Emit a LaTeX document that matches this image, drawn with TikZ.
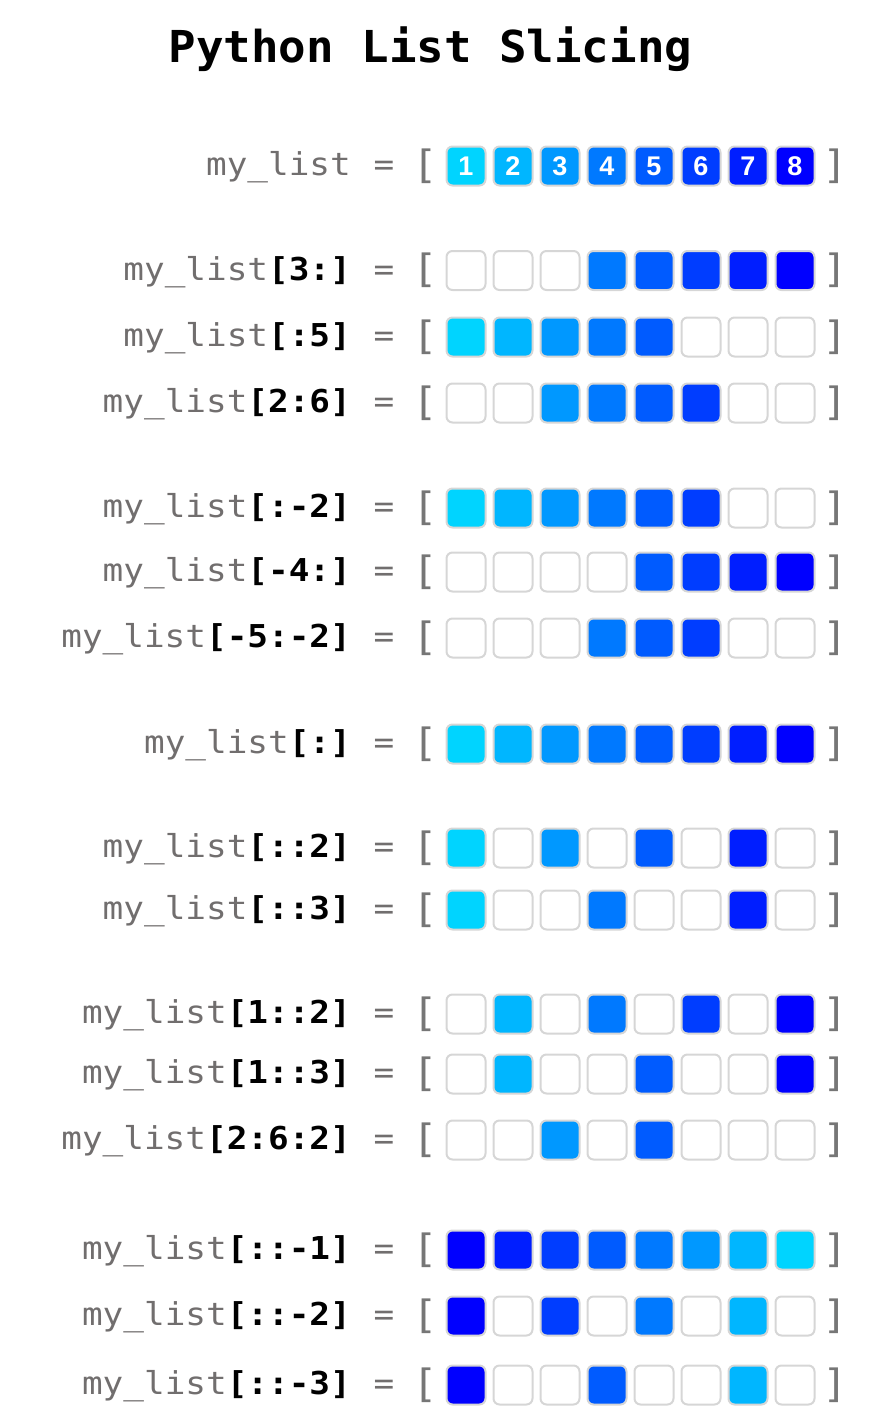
\documentclass[tikz,border=0pt]{standalone}
\usepackage{fontspec}
\newfontfamily\codefont{DejaVu Sans Mono}[FakeStretch=1.09]
\newfontfamily\titlefont{DejaVu Sans Mono}[FakeStretch=1.04]
\newfontfamily\numfont{Liberation Sans}
\definecolor{c0}{RGB}{255,255,255}
\definecolor{c1}{RGB}{0,212,255}
\definecolor{c2}{RGB}{0,182,255}
\definecolor{c3}{RGB}{0,152,255}
\definecolor{c4}{RGB}{0,121,255}
\definecolor{c5}{RGB}{0,91,255}
\definecolor{c6}{RGB}{0,61,255}
\definecolor{c7}{RGB}{0,30,255}
\definecolor{c8}{RGB}{0,0,255}
\definecolor{txtgray}{RGB}{113,110,110}
\definecolor{brkgray}{RGB}{118,118,118}
\definecolor{cellgray}{RGB}{214,214,214}
\tikzset{
  lbl/.style={inner sep=0pt, text=txtgray, font=\codefont\fontsize{31.5}{34}\selectfont, anchor=base east},
  eqsign/.style={inner sep=0pt, text=txtgray, font=\codefont\fontsize{31.5}{34}\selectfont, anchor=base},
  brk/.style={inner sep=0pt, text=brkgray, font=\codefont\fontsize{39}{40}\selectfont, anchor=base},
  cell/.style={rectangle, rounded corners=6pt, draw=cellgray, line width=2pt, minimum size=39pt, inner sep=0pt,
    text=white, font=\numfont\bfseries\fontsize{27}{27}\selectfont},
  ttl/.style={inner sep=0pt, font=\titlefont\bfseries\fontsize{44}{46}\selectfont, anchor=base}
}
% #1 name, #2 y centre, #3 slice, #4 eight colour indices
\newcommand\mkrow[4]{%
  \node[lbl] (#1-l) at (351,#2+9.5) {my\_list{\bfseries\color{black}#3}};
  \node[eqsign] (#1-e) at (384,#2+9.5) {=};
  \node[brk] (#1-o) at (425,#2+12.3) {[};
  \foreach \c [count=\i from 0] in {#4}
    \node[cell, fill=c\c] (#1-\i) at (466+47*\i,#2) {};
  \node[brk] (#1-c) at (835,#2+12.3) {]};
}
\begin{document}
\begin{tikzpicture}[x=1pt,y=-1pt]
\useasboundingbox (0,0) rectangle (869,1428);
\node[ttl] (title) at (430.5,62.7) {Python List Slicing};
% first row with numbers
\node[lbl] (r0-l) at (351,175.5) {my\_list};
\node[eqsign] (r0-e) at (384,175.5) {=};
\node[brk] (r0-o) at (425,178.3) {[};
\foreach \i in {1,...,8}
  \node[cell, fill=c\i] (r0-\i) at (466+47*\i-47,166) {\i};
\node[brk] (r0-c) at (835,178.3) {]};
\mkrow{ra}{270.5}{[3:]}{0,0,0,4,5,6,7,8}
\mkrow{rb}{337}{[:5]}{1,2,3,4,5,0,0,0}
\mkrow{rc}{403}{[2:6]}{0,0,3,4,5,6,0,0}
\mkrow{rd}{508}{[:-2]}{1,2,3,4,5,6,0,0}
\mkrow{re}{572}{[-4:]}{0,0,0,0,5,6,7,8}
\mkrow{rf}{638}{[-5:-2]}{0,0,0,4,5,6,0,0}
\mkrow{rg}{744}{[:]}{1,2,3,4,5,6,7,8}
\mkrow{rh}{848}{[::2]}{1,0,3,0,5,0,7,0}
\mkrow{ri}{910}{[::3]}{1,0,0,4,0,0,7,0}
\mkrow{rj}{1014}{[1::2]}{0,2,0,4,0,6,0,8}
\mkrow{rk}{1074}{[1::3]}{0,2,0,0,5,0,0,8}
\mkrow{rl}{1140}{[2:6:2]}{0,0,3,0,5,0,0,0}
\mkrow{rm}{1250}{[::-1]}{8,7,6,5,4,3,2,1}
\mkrow{rn}{1316}{[::-2]}{8,0,6,0,4,0,2,0}
\mkrow{ro}{1385}{[::-3]}{8,0,0,5,0,0,2,0}
\end{tikzpicture}
\end{document}
